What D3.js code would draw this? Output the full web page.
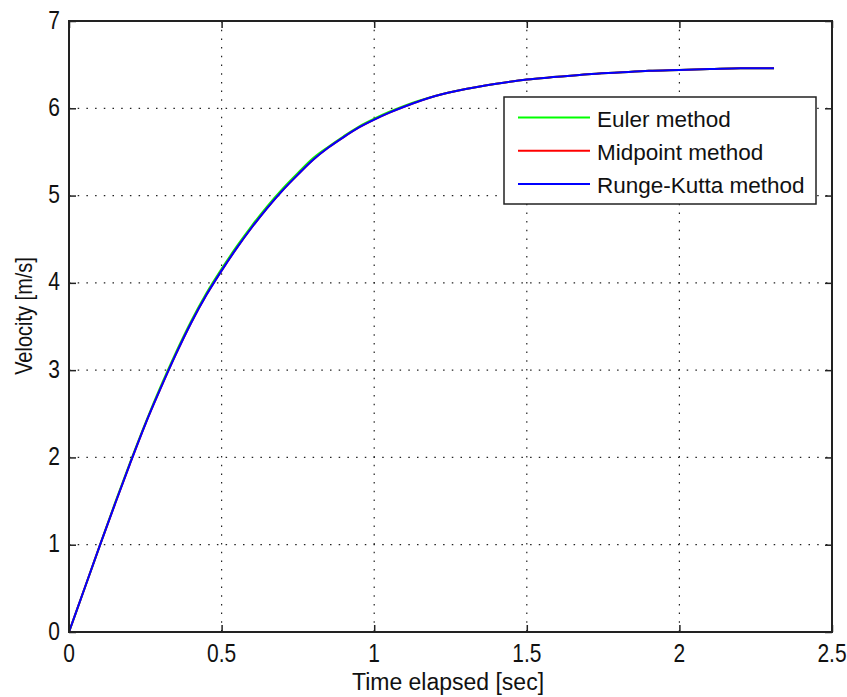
<!DOCTYPE html>
<html><head><meta charset="utf-8">
<script src="https://cdn.jsdelivr.net/npm/d3@7"></script>
<style>body{margin:0;background:#fff}svg{display:block}</style>
</head><body>
<svg id="c" width="847" height="697"></svg>
<script>
const time = [0,0.05,0.1,0.15,0.2,0.25,0.3,0.35,0.4,0.45,0.5,0.55,0.6,0.65,0.7,0.75,0.8,0.85,0.9,0.95,1.0,1.05,1.1,1.2,1.3,1.4,1.5,1.6,1.7,1.8,1.9,2.0,2.1,2.2,2.31];
const rungeKutta = [0,0.49,0.98,1.46,1.93,2.38,2.79,3.18,3.54,3.86,4.14,4.40,4.64,4.86,5.06,5.24,5.41,5.55,5.67,5.78,5.87,5.95,6.02,6.14,6.22,6.28,6.33,6.36,6.39,6.41,6.43,6.44,6.45,6.46,6.46];
const midpoint = [0,0.49,0.98,1.46,1.93,2.38,2.79,3.18,3.54,3.86,4.14,4.40,4.64,4.86,5.06,5.24,5.41,5.55,5.67,5.78,5.87,5.95,6.02,6.14,6.22,6.28,6.33,6.36,6.39,6.41,6.43,6.44,6.45,6.46,6.46];
const euler = [0,0.49,0.98,1.47,1.94,2.39,2.81,3.20,3.56,3.88,4.16,4.42,4.66,4.88,5.08,5.26,5.43,5.56,5.68,5.79,5.88,5.96,6.03,6.14,6.22,6.28,6.33,6.36,6.39,6.41,6.43,6.44,6.45,6.46,6.46];
const xTicks = [0,0.5,1,1.5,2,2.5];
const yTicks = [0,1,2,3,4,5,6,7];
const seriesNames = ["Euler method","Midpoint method","Runge-Kutta method"];
const seriesColors = ["#00ff00","#ff0000","#0000ff"];

const L=69,R=832,T=21,B=632;
const svg=d3.select("#c");
const x=d3.scaleLinear().domain([0,2.5]).range([L,R]);
const y=d3.scaleLinear().domain([0,7]).range([B,T]);
const font="Arial, 'Liberation Sans', sans-serif";
const fmt=d3.format("~g");

// grid
const g=svg.append("g");
xTicks.slice(1,-1).forEach(t=>g.append("line").attr("x1",x(t)).attr("x2",x(t)).attr("y1",T).attr("y2",B)
  .attr("stroke","#222").attr("stroke-width",1.2).attr("stroke-dasharray","1.5,7.2"));
yTicks.slice(1,-1).forEach(t=>g.append("line").attr("x1",L).attr("x2",R).attr("y1",y(t)).attr("y2",y(t))
  .attr("stroke","#222").attr("stroke-width",1.2).attr("stroke-dasharray","1.5,7.2"));

// lines
const line=d3.line().x((d,i)=>x(time[i])).y(d=>y(d)).curve(d3.curveMonotoneX);
[euler,midpoint,rungeKutta].forEach((s,i)=>svg.append("path").datum(s).attr("d",line)
  .attr("fill","none").attr("stroke",seriesColors[i]).attr("stroke-width",2));

// axes (inward ticks on all four sides)
const xb=d3.axisBottom(x).tickValues(xTicks).tickSize(-7).tickFormat("");
const xt=d3.axisTop(x).tickValues(xTicks).tickSize(-7).tickFormat("");
const yl=d3.axisLeft(y).tickValues(yTicks).tickSize(-7).tickFormat("");
const yr=d3.axisRight(y).tickValues(yTicks).tickSize(-7).tickFormat("");
[[xb,`translate(0,${B})`],[xt,`translate(0,${T})`],[yl,`translate(${L},0)`],[yr,`translate(${R},0)`]].forEach(([a,tr])=>{
  const ax=svg.append("g").attr("transform",tr).call(a);
  ax.select(".domain").remove();
  ax.selectAll("line").attr("stroke","#222").attr("stroke-width",1.5);
});
svg.append("rect").attr("x",L).attr("y",T).attr("width",R-L).attr("height",B-T)
  .attr("fill","none").attr("stroke","#222").attr("stroke-width",2);

// tick labels
xTicks.forEach(t=>svg.append("text").attr("transform",`translate(${x(t)},662) scale(1,1.2)`)
  .attr("text-anchor","middle").attr("font-family",font).attr("font-size",21).attr("fill","#111").text(fmt(t)));
yTicks.forEach(t=>svg.append("text").attr("transform",`translate(60,${y(t)+7.5}) scale(1,1.2)`)
  .attr("text-anchor","end").attr("font-family",font).attr("font-size",21).attr("fill","#111").text(fmt(t)));

// axis titles
svg.append("text").attr("transform",`translate(448,690) scale(1,1.08)`).attr("text-anchor","middle")
  .attr("font-family",font).attr("font-size",23).attr("fill","#111").text("Time elapsed [sec]");
svg.append("text").attr("transform",`translate(32,316) rotate(-90) scale(1,1.18)`).attr("text-anchor","middle")
  .attr("font-family",font).attr("font-size",20).attr("fill","#111").text("Velocity [m/s]");

// legend
const lg=svg.append("g");
lg.append("rect").attr("x",504).attr("y",97).attr("width",312).attr("height",107)
  .attr("fill","#fff").attr("stroke","#222").attr("stroke-width",1.5);
seriesNames.forEach((n,i)=>{
  const yy=117.5+i*33.3;
  lg.append("line").attr("x1",518).attr("x2",590).attr("y1",yy).attr("y2",yy)
    .attr("stroke",seriesColors[i]).attr("stroke-width",2);
  lg.append("text").attr("x",597).attr("y",yy+9).attr("font-family",font).attr("font-size",22.5).attr("fill","#111").text(n);
});
</script>
</body></html>
